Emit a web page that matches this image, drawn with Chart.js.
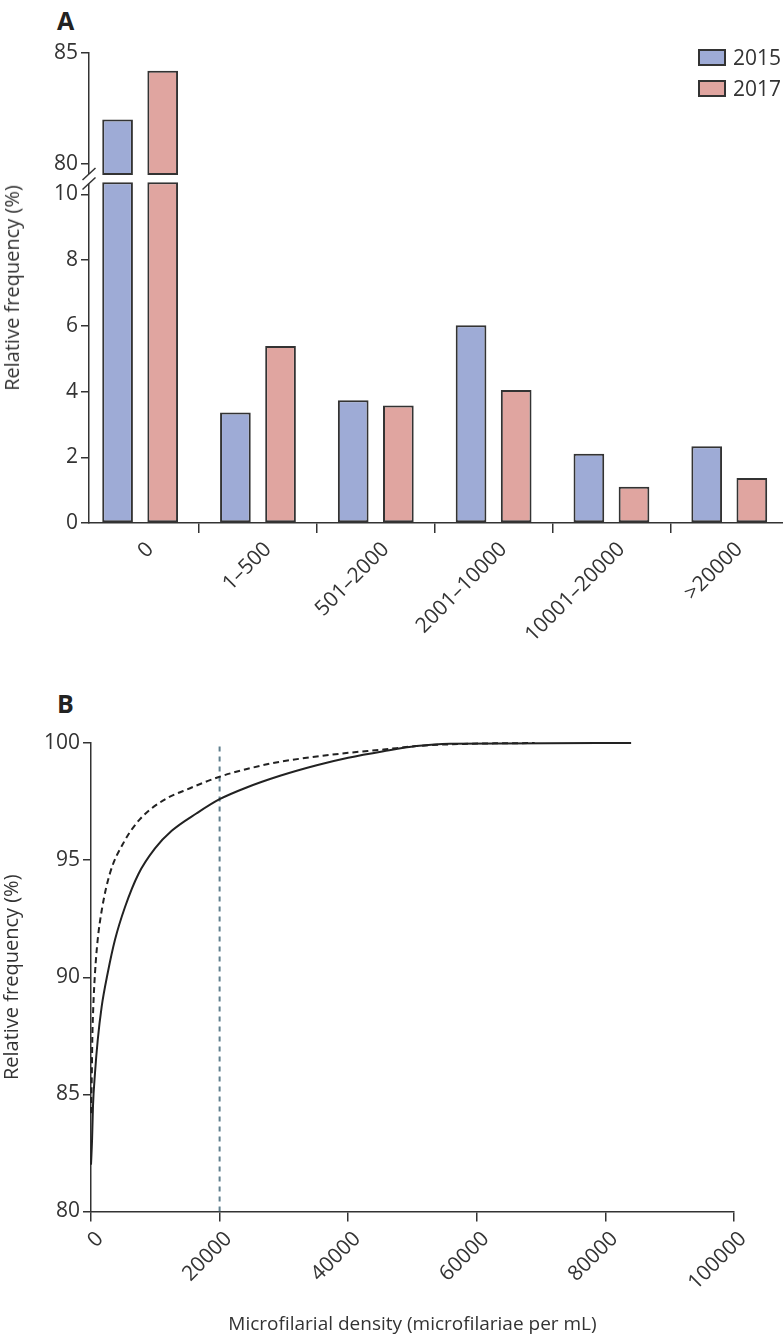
<!DOCTYPE html>
<html>
<head>
<meta charset="utf-8">
<script src="https://cdn.jsdelivr.net/npm/chart.js@4.4.1/dist/chart.umd.min.js"></script>
<style>
html,body{margin:0;padding:0;background:#fff;}
body{width:783px;height:1341px;position:relative;overflow:hidden;font-family:"Open Sans",sans-serif;color:#333;}
#wrapA{position:absolute;left:0;top:0;width:783px;height:640px;}
#wrapB{position:absolute;left:0;top:680px;width:783px;height:661px;}
canvas{display:block;}
.panel{position:absolute;left:57px;font-weight:700;font-size:25px;color:#222;line-height:1;}
.ytitle{position:absolute;font-size:20px;white-space:nowrap;transform:translate(-50%,-50%) rotate(-90deg);line-height:1;color:#333;}
.leg{position:absolute;left:698px;height:18px;display:flex;align-items:center;font-size:21px;color:#333;}
.leg .sw{display:inline-block;width:24px;height:13px;border:2px solid #333;margin-right:7px;}
</style>
</head>
<body>
<div class="panel" style="top:8px">A</div>
<div class="panel" style="top:691px">B</div>
<div id="wrapA"><canvas id="cA" width="783" height="640"></canvas></div>
<div id="wrapB"><canvas id="cB" width="783" height="661"></canvas></div>
<div class="ytitle" id="yTitleA" style="left:12px;top:288px"></div>
<div id="legendA"></div>
<script>
// ---------- Panel A data ----------
const categories = ['0', '1–500', '501–2000', '2001–10000', '10001–20000', '>20000'];
const seriesNames = ['2015', '2017'];
const freq2015 = [82.0, 3.36, 3.74, 6.02, 2.11, 2.34];
const freq2017 = [84.2, 5.39, 3.58, 4.05, 1.10, 1.37];
const yTicksLow = [0, 2, 4, 6, 8, 10];
const yTicksHigh = [80, 85];
const yTitle = 'Relative frequency (%)';

// ---------- Panel B data ----------
const density2015 = [0, 170, 310, 620, 1040, 1660, 2590, 3730, 5290, 7360, 9950, 12550, 16440, 20000, 24200, 29400, 35100, 40000, 45500, 50600, 55800, 84000];
const cumFreq2015 = [82.0, 83.1, 84.5, 85.9, 87.3, 88.75, 90.17, 91.6, 93.0, 94.4, 95.5, 96.25, 97.0, 97.6, 98.1, 98.6, 99.05, 99.37, 99.65, 99.87, 99.97, 100];
const density2017 = [0, 130, 200, 360, 620, 1040, 1760, 2950, 5180, 7620, 11240, 15400, 20000, 24700, 29400, 35100, 40000, 45500, 50600, 57900, 69000];
const cumFreq2017 = [84.2, 85.9, 87.3, 88.75, 90.17, 91.6, 93.0, 94.44, 95.8, 96.75, 97.55, 98.07, 98.56, 98.92, 99.2, 99.42, 99.58, 99.72, 99.87, 99.96, 100];
const thresholdDensity = 20000;
const xTicksB = [0, 20000, 40000, 60000, 80000, 100000];
const yTicksB = [80, 85, 90, 95, 100];
const xTitleB = 'Microfilarial density (microfilariae per mL)';

// ---------- axis ranges ----------
const lowAxisMax = 10.487, lowBarCap = 10.37;
const highAxisMin = 79.34, highBarBase = 79.5, highAxisMax = 85;

// ---------- styles ----------
const FONT = '"Open Sans", sans-serif';
const INK = '#333';
const fillColors = ['#9eabd6', '#e0a5a0'];
const tickFont = {family: FONT, size: 21};

// legend + titles as HTML text
document.getElementById('yTitleA').textContent = yTitle;
const legendEl = document.getElementById('legendA');
seriesNames.forEach((n, i) => {
  const row = document.createElement('div');
  row.className = 'leg';
  row.style.top = (48 + i * 31) + 'px';
  const sw = document.createElement('span');
  sw.className = 'sw';
  sw.style.background = fillColors[i];
  const tx = document.createElement('span');
  tx.textContent = n;
  row.appendChild(sw); row.appendChild(tx);
  legendEl.appendChild(row);
});

const toLow = arr => arr.map((v, i) => ({x: i, y: Math.min(v, lowBarCap)}));
const toHigh = arr => arr.map((v, i) => ({x: i, y: v > highAxisMin ? [highBarBase, v] : null}));

const barStyle = (i) => ({
  backgroundColor: fillColors[i], borderColor: INK, borderWidth: 2, borderSkipped: false,
  barPercentage: 0.68, categoryPercentage: 0.766, stack: 's' + i
});

const breakPlugin = {
  id: 'axisBreak',
  afterDraw(chart) {
    const yH = chart.scales.yHigh;
    const ctx = chart.ctx;
    const x = chart.chartArea.left;
    const yb = yH.bottom;
    ctx.save();
    ctx.fillStyle = '#fff';
    ctx.fillRect(x - 3, yb - 4.5, 6, 9.5);
    ctx.strokeStyle = INK;
    ctx.lineWidth = 1.5;
    [-4.5, 5].forEach(d => {
      ctx.beginPath();
      ctx.moveTo(x - 6.5, yb + d + 6);
      ctx.lineTo(x + 6.5, yb + d - 6);
      ctx.stroke();
    });
    ctx.restore();
  }
};

new Chart(document.getElementById('cA'), {
  type: 'bar',
  data: {
    datasets: [
      Object.assign({label: seriesNames[0], data: toLow(freq2015), yAxisID: 'yLow'}, barStyle(0)),
      Object.assign({label: seriesNames[1], data: toLow(freq2017), yAxisID: 'yLow'}, barStyle(1)),
      Object.assign({label: seriesNames[0] + ' high', data: toHigh(freq2015), yAxisID: 'yHigh'}, barStyle(0)),
      Object.assign({label: seriesNames[1] + ' high', data: toHigh(freq2017), yAxisID: 'yHigh'}, barStyle(1))
    ]
  },
  options: {
    responsive: false, animation: false, devicePixelRatio: 1,
    layout: {padding: {top: 53, left: 0, right: 0, bottom: 0}},
    plugins: {legend: {display: false}, tooltip: {enabled: false}},
    scales: {
      x: {
        type: 'linear', min: -0.434, max: 5.456, stacked: true, offset: false,
        afterBuildTicks: ax => { ax.ticks = categories.map((c, i) => ({value: i})); },
        ticks: {callback: v => categories[v], autoSkip: false, minRotation: 45, maxRotation: 45,
          font: tickFont, color: INK, padding: 4, labelOffset: 10},
        grid: {offset: true, drawOnChartArea: false, drawTicks: true, tickLength: 10, color: INK, lineWidth: 1.5},
        border: {color: INK, width: 1.5},
        afterFit: s => { s.height = 117; }
      },
      yLow: {
        type: 'linear', position: 'left', stack: 'yA', stackWeight: 344.5, stacked: false,
        min: 0, max: lowAxisMax,
        afterBuildTicks: ax => { ax.ticks = yTicksLow.map(v => ({value: v})); },
        ticks: {font: tickFont, color: INK, padding: 3},
        grid: {drawOnChartArea: false, tickLength: 8, color: INK, lineWidth: 1.5},
        border: {color: INK, width: 1.5},
        afterFit: s => { s.width = 89; }
      },
      yHigh: {
        type: 'linear', position: 'left', stack: 'yA', stackWeight: 125.5, stacked: false,
        min: highAxisMin, max: highAxisMax,
        afterBuildTicks: ax => { ax.ticks = yTicksHigh.map(v => ({value: v})); },
        ticks: {font: tickFont, color: INK, padding: 3},
        grid: {drawOnChartArea: false, tickLength: 8, color: INK, lineWidth: 1.5},
        border: {color: INK, width: 1.5},
        afterFit: s => { s.width = 89; }
      }
    }
  },
  plugins: [breakPlugin]
});

// ---------- Panel B ----------
const pts = (xs, ys) => xs.map((x, i) => ({x: x, y: ys[i]}));
new Chart(document.getElementById('cB'), {
  type: 'line',
  data: {
    datasets: [
      {label: seriesNames[0], data: pts(density2015, cumFreq2015), borderColor: '#222', borderWidth: 2,
        pointRadius: 0, cubicInterpolationMode: 'monotone', clip: 6, fill: false},
      {label: seriesNames[1], data: pts(density2017, cumFreq2017), borderColor: '#222', borderWidth: 2,
        borderDash: [6, 4], pointRadius: 0, cubicInterpolationMode: 'monotone', clip: 6, fill: false},
      {label: 'threshold', data: [{x: thresholdDensity, y: yTicksB[0]}, {x: thresholdDensity, y: yTicksB[yTicksB.length - 1]}],
        borderColor: '#5f7f8e', borderWidth: 2, borderDash: [5, 5], pointRadius: 0, fill: false}
    ]
  },
  options: {
    responsive: false, animation: false, devicePixelRatio: 1,
    layout: {padding: {top: 63, left: 0, right: 49, bottom: 0}},
    plugins: {legend: {display: false}, tooltip: {enabled: false}},
    scales: {
      x: {
        type: 'linear', min: xTicksB[0], max: xTicksB[xTicksB.length - 1],
        afterBuildTicks: ax => { ax.ticks = xTicksB.map(v => ({value: v})); },
        ticks: {callback: v => String(v), autoSkip: false, minRotation: 45, maxRotation: 45,
          font: tickFont, color: INK, padding: 5, labelOffset: 9},
        grid: {drawOnChartArea: false, drawTicks: true, tickLength: 10, color: INK, lineWidth: 1.5},
        border: {color: INK, width: 1.5},
        title: {display: true, text: xTitleB, font: {family: FONT, size: 19}, color: INK, padding: {top: 0, bottom: 5}},
        afterFit: s => { s.height = 129.5; }
      },
      y: {
        type: 'linear', min: yTicksB[0], max: yTicksB[yTicksB.length - 1],
        afterBuildTicks: ax => { ax.ticks = yTicksB.map(v => ({value: v})); },
        ticks: {font: tickFont, color: INK, padding: 3},
        grid: {drawOnChartArea: false, tickLength: 8, color: INK, lineWidth: 1.5},
        border: {color: INK, width: 1.5},
        title: {display: true, text: yTitle, font: {family: FONT, size: 20}, color: INK, padding: {top: 0, bottom: 0}},
        afterFit: s => { s.width = 91; }
      }
    }
  }
});
</script>
</body>
</html>
